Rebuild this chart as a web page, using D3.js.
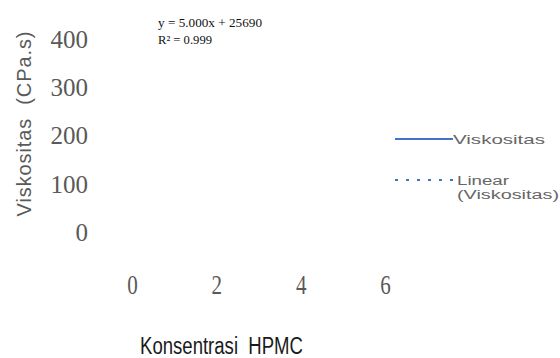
<!DOCTYPE html>
<html>
<head>
<meta charset="utf-8">
<script src="https://cdn.jsdelivr.net/npm/d3@7"></script>
<style>
  html, body { margin: 0; padding: 0; background: #fff; }
  svg { display: block; }
</style>
</head>
<body>
<svg id="chart" width="560" height="358"></svg>
<script>
// ---- data ----
const xTicks = [0, 2, 4, 6];
const yTicks = [0, 100, 200, 300, 400];
const legendLabels = ["Viskositas", "Linear", "(Viskositas)"];
const equationLines = ["y = 5.000x + 25690", "R\u00B2 = 0.999"];
const xTitle = "Konsentrasi  HPMC";
const yTitle = "Viskositas  (CPa.s)";
const seriesColor = "#4472C4";

const svg = d3.select("#chart");
const x = d3.scaleLinear().domain([0, 6]).range([132, 385]);
const y = d3.scaleLinear().domain([0, 400]).range([232, 39]);

// y axis
const gy = svg.append("g").attr("transform", "translate(88,0)")
  .call(d3.axisLeft(y).tickValues(yTicks).tickSize(0).tickPadding(0).tickFormat(d3.format("d")));
gy.select(".domain").remove();
gy.selectAll("text")
  .attr("font-family", "'Liberation Serif', 'Times New Roman', serif")
  .attr("font-size", 25).attr("fill", "#595959")
  .attr("dy", "0.33em");

// x axis
const gx = svg.append("g").attr("transform", "translate(0,294)")
  .call(d3.axisBottom(x).tickValues(xTicks).tickSize(0).tickPadding(0).tickFormat(d3.format("d")));
gx.select(".domain").remove();
gx.selectAll("text")
  .attr("font-family", "'Liberation Serif', 'Times New Roman', serif")
  .attr("font-size", 27).attr("fill", "#595959")
  .attr("y", 0).attr("dy", 0)
  .attr("transform", "scale(0.78,1)");

// axis titles
svg.append("text")
  .attr("transform", "translate(31,124) rotate(-90)")
  .attr("text-anchor", "middle")
  .attr("font-family", "'Liberation Sans', Arial, sans-serif")
  .attr("font-size", 20).attr("fill", "#595959")
  .attr("xml:space", "preserve")
  .attr("textLength", 185).attr("lengthAdjust", "spacing")
  .text(yTitle);

svg.append("text")
  .attr("x", 140).attr("y", 354)
  .attr("font-family", "'Liberation Sans', Arial, sans-serif")
  .attr("font-size", 23).attr("fill", "#1a1a1a")
  .attr("xml:space", "preserve")
  .attr("textLength", 163).attr("lengthAdjust", "spacingAndGlyphs")
  .text(xTitle);

// trendline equation
svg.append("text").attr("x", 158).attr("y", 27)
  .attr("font-family", "'Liberation Serif', 'Times New Roman', serif")
  .attr("font-size", 13).attr("fill", "#111")
  .attr("textLength", 104).attr("lengthAdjust", "spacingAndGlyphs")
  .text(equationLines[0]);
svg.append("text").attr("x", 158).attr("y", 44)
  .attr("font-family", "'Liberation Serif', 'Times New Roman', serif")
  .attr("font-size", 13).attr("fill", "#111")
  .attr("textLength", 54).attr("lengthAdjust", "spacingAndGlyphs")
  .text(equationLines[1]);

// legend
const legendFont = "'Liberation Sans', Arial, sans-serif";
const lg = svg.append("g");
lg.append("line").attr("x1", 395).attr("x2", 453).attr("y1", 139).attr("y2", 139)
  .attr("stroke", seriesColor).attr("stroke-width", 2);
lg.append("text").attr("x", 453).attr("y", 144)
  .attr("font-family", legendFont)
  .attr("font-size", 13).attr("fill", "#666")
  .attr("textLength", 92).attr("lengthAdjust", "spacingAndGlyphs")
  .text(legendLabels[0]);
lg.append("line").attr("x1", 395).attr("x2", 453).attr("y1", 180).attr("y2", 180)
  .attr("stroke", seriesColor).attr("stroke-width", 2)
  .attr("stroke-dasharray", "3,8");
lg.append("text").attr("x", 457).attr("y", 185)
  .attr("font-family", legendFont)
  .attr("font-size", 12.5).attr("fill", "#666")
  .attr("textLength", 52).attr("lengthAdjust", "spacingAndGlyphs")
  .text(legendLabels[1]);
lg.append("text").attr("x", 457).attr("y", 199)
  .attr("font-family", legendFont)
  .attr("font-size", 12.5).attr("fill", "#666")
  .attr("textLength", 102).attr("lengthAdjust", "spacingAndGlyphs")
  .text(legendLabels[2]);
</script>
</body>
</html>
